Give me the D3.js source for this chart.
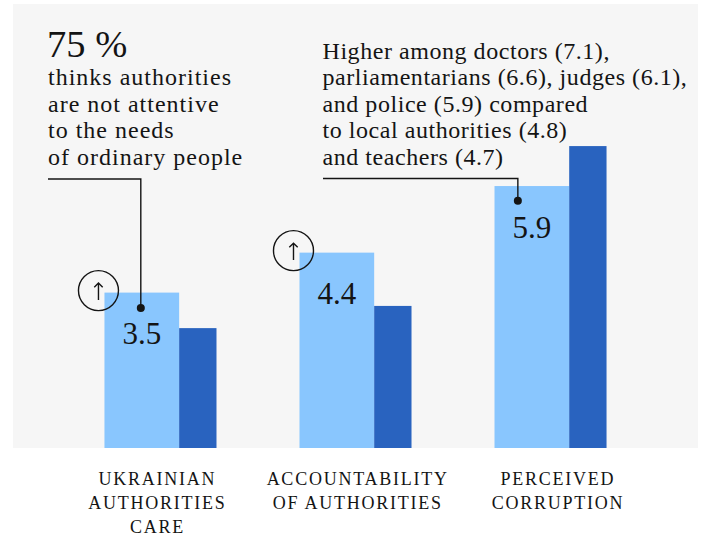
<!DOCTYPE html>
<html>
<head>
<meta charset="utf-8">
<script src="https://cdn.jsdelivr.net/npm/d3@7"></script>
<style>
  html, body { margin: 0; padding: 0; background: #ffffff; }
  svg { display: block; }
</style>
</head>
<body>
<svg id="chart" width="702" height="537"></svg>
<script>
// ---- data ----
const categories = ["Ukrainian authorities care", "Accountability of authorities", "Perceived corruption"];
const categoryLabels = [["UKRAINIAN", "AUTHORITIES", "CARE"], ["ACCOUNTABILITY", "OF AUTHORITIES"], ["PERCEIVED", "CORRUPTION"]];
const seriesNames = ["current", "previous"];
const currentValues = [3.5, 4.4, 5.9];
const previousValues = [2.7, 3.2, 6.8];
const risingCategories = ["Ukrainian authorities care", "Accountability of authorities"];
const noteLeft = ["75 %", "thinks authorities", "are not attentive", "to the needs", "of ordinary people"];
const noteRight = ["Higher among doctors (7.1),", "parliamentarians (6.6), judges (6.1),", "and police (5.9) compared", "to local authorities (4.8)", "and teachers (4.7)"];

const colors = { current: "#89c6fe", previous: "#2963bf", panel: "#f6f6f6", ink: "#141414" };
const FONT = '"Liberation Serif", "Times New Roman", serif';

const panel = { x0: 13, x1: 698, y0: 4, y1: 448 };

const svg = d3.select("#chart").style("font-family", FONT);

svg.append("rect")
  .attr("x", panel.x0).attr("y", panel.y0)
  .attr("width", panel.x1 - panel.x0).attr("height", panel.y1 - panel.y0)
  .attr("fill", colors.panel);

const x = d3.scaleBand().domain(categories).range([panel.x0, panel.x1])
  .paddingInner(0.4256).paddingOuter(0.469);
const y = d3.scaleLinear().domain([0, 10]).range([panel.y1, panel.y0]);
const bw = x.bandwidth();
const sub = d3.scaleOrdinal().domain(seriesNames).range([0, bw * 2 / 3]);
const subW = d3.scaleOrdinal().domain(seriesNames).range([bw * 2 / 3, bw / 3]);

const rows = categories.map((c, i) => ({ cat: c, current: currentValues[i], previous: previousValues[i] }));

seriesNames.forEach(s => {
  svg.append("g").selectAll("rect").data(rows).join("rect")
    .attr("x", d => x(d.cat) + sub(s))
    .attr("width", subW(s))
    .attr("y", d => y(d[s]))
    .attr("height", d => y(0) - y(d[s]))
    .attr("fill", colors[s]);
});

function txt(sel) {
  return sel.style("font-family", FONT).attr("fill", colors.ink);
}

// value labels
txt(svg.append("g").selectAll("text").data(rows).join("text"))
  .attr("x", d => x(d.cat) + subW("current") / 2)
  .attr("y", d => y(d.current) + 51.5)
  .attr("text-anchor", "middle")
  .style("font-size", "31px")
  .text(d => d.current.toFixed(1));

// rising arrows in circles
const rising = rows.filter(d => risingCategories.includes(d.cat));
const rg = svg.append("g").selectAll("g").data(rising).join("g")
  .attr("transform", d => `translate(${x(d.cat) - 6},${y(d.current) - 2})`);
rg.append("circle").attr("r", 20).attr("fill", "none").attr("stroke", colors.ink).attr("stroke-width", 1.4);
rg.append("path").attr("d", "M0,9.3V-7.3M-4.2,-3.3L0,-7.5L4.2,-3.3")
  .attr("fill", "none").attr("stroke", colors.ink).attr("stroke-width", 1.4);

// left note
const tl = svg.append("g");
txt(tl.append("text")).attr("x", 47).attr("y", 56.7).style("font-size", "38.5px").text(noteLeft[0]);
noteLeft.slice(1).forEach((t, i) => {
  txt(tl.append("text")).attr("x", 48).attr("y", 85 + i * 26.5)
    .style("font-size", "24px").style("letter-spacing", "1px").text(t);
});
// right note
noteRight.forEach((t, i) => {
  txt(tl.append("text")).attr("x", 322.5).attr("y", 58.5 + i * 26.5)
    .style("font-size", "24px").style("letter-spacing", "0.55px").text(t);
});

// callout lines
const r0 = rows[0], r2 = rows[2];
const d1x = x(r0.cat) + subW("current") / 2 - 1, d1y = y(r0.current) + 15.5;
const d3x = x(r2.cat) + subW("current") / 2 - 14, d3y = y(r2.current) + 14.7;
svg.append("path").attr("d", `M48,179H${d1x}V${d1y}`).attr("fill", "none").attr("stroke", colors.ink).attr("stroke-width", 1.4);
svg.append("path").attr("d", `M323,178.5H${d3x}V${d3y}`).attr("fill", "none").attr("stroke", colors.ink).attr("stroke-width", 1.4);
svg.append("circle").attr("cx", d1x).attr("cy", d1y).attr("r", 4).attr("fill", colors.ink);
svg.append("circle").attr("cx", d3x).attr("cy", d3y).attr("r", 4).attr("fill", colors.ink);

// category labels
const lx = d3.scalePoint().domain(categories).range([156.5, 557]);
const lab = txt(svg.append("g").selectAll("text").data(categories).join("text"))
  .attr("text-anchor", "middle")
  .style("font-size", "18px").style("letter-spacing", "1.75px");
lab.each(function(c, i) {
  const t = d3.select(this);
  categoryLabels[i].forEach((line, j) => {
    t.append("tspan").attr("x", lx(c) + 0.9).attr("y", 485 + j * 24).text(line);
  });
});
</script>
</body>
</html>
